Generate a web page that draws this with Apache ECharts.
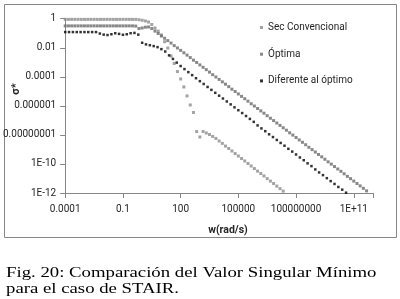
<!DOCTYPE html>
<html>
<head>
<meta charset="utf-8">
<script src="https://cdn.jsdelivr.net/npm/echarts@6/dist/echarts.min.js"></script>
<style>
  html, body { margin: 0; padding: 0; background: #fff; }
  #main { width: 400px; height: 299px; }
</style>
</head>
<body>
<div id="main"></div>
<script>
// frecuencias (rad/s), 6 puntos por decada
const wFine = [
  1e-4, 1.47e-4, 2.15e-4, 3.16e-4, 4.64e-4, 6.81e-4,
  1e-3, 1.47e-3, 2.15e-3, 3.16e-3, 4.64e-3, 6.81e-3,
  1e-2, 1.47e-2, 2.15e-2, 3.16e-2, 4.64e-2, 6.81e-2,
  1e-1, 1.47e-1, 2.15e-1, 3.16e-1, 4.64e-1, 6.81e-1,
  1, 1.47, 2.15, 3.16, 4.64, 6.81,
  1e1, 1.47e1, 2.15e1, 3.16e1, 4.64e1, 6.81e1,
  1e2, 1.47e2, 2.15e2, 3.16e2, 4.64e2, 6.81e2,
  1e3, 1.47e3, 2.15e3, 3.16e3, 4.64e3, 6.81e3,
  1e4, 1.47e4, 2.15e4, 3.16e4, 4.64e4, 6.81e4,
  1e5, 1.47e5, 2.15e5, 3.16e5, 4.64e5, 6.81e5,
  1e6, 1.47e6, 2.15e6, 3.16e6, 4.64e6, 6.81e6,
  1e7, 1.47e7, 2.15e7, 3.16e7, 4.64e7, 6.81e7,
  1e8, 1.47e8, 2.15e8, 3.16e8, 4.64e8, 6.81e8,
  1e9, 1.47e9, 2.15e9, 3.16e9, 4.64e9, 6.81e9,
  1e10, 1.47e10, 2.15e10, 3.16e10, 4.64e10, 6.81e10,
  1e11, 1.47e11, 2.15e11, 3.16e11, 4.64e11
];
// frecuencias (rad/s), 5 puntos por decada
const wCoarse = [
  1e-4, 1.58e-4, 2.51e-4, 3.98e-4, 6.31e-4,
  1e-3, 1.58e-3, 2.51e-3, 3.98e-3, 6.31e-3,
  1e-2, 1.58e-2, 2.51e-2, 3.98e-2, 6.31e-2,
  1e-1, 1.58e-1, 2.51e-1, 3.98e-1, 6.31e-1,
  1, 1.58, 2.51, 3.98, 6.31,
  1e1, 1.58e1, 2.51e1, 3.98e1, 6.31e1,
  1e2, 1.58e2, 2.51e2, 3.98e2, 6.31e2,
  1e3, 1.58e3, 2.51e3, 3.98e3, 6.31e3,
  1e4, 1.58e4, 2.51e4, 3.98e4, 6.31e4,
  1e5, 1.58e5, 2.51e5, 3.98e5, 6.31e5,
  1e6, 1.58e6, 2.51e6, 3.98e6, 6.31e6,
  1e7, 1.58e7, 2.51e7, 3.98e7, 6.31e7,
  1e8, 1.58e8, 2.51e8, 3.98e8, 6.31e8,
  1e9, 1.58e9, 2.51e9, 3.98e9, 6.31e9,
  1e10, 1.58e10, 2.51e10, 3.98e10
];

// valor singular minimo
const secConvencional = [
  0.9, 0.9, 0.9, 0.9, 0.9, 0.9, 0.9, 0.9, 0.9, 0.9, 0.9, 0.9,
  0.9, 0.9, 0.9, 0.9, 0.9, 0.9, 0.9, 0.9, 0.9, 0.9, 0.9,
  0.85, 0.78, 0.7, 0.59, 0.4, 0.23, 0.14, 0.076, 0.026, 0.0096, 0.0027,
  8.3e-4, 2.3e-4, 7.1e-5, 2.0e-5, 4.8e-6, 1.15e-6, 3.5e-7,
  1.7e-8, 7.2e-9, 1.7e-8, 1.35e-8, 1.07e-8, 7.8e-9, 5.7e-9,
  3.8e-9, 2.6e-9, 1.7e-9, 1.15e-9, 7.8e-10, 5.2e-10, 3.5e-10, 2.35e-10,
  1.6e-10, 1.07e-10, 7.2e-11, 4.8e-11, 3.2e-11, 2.2e-11, 1.5e-11,
  9.8e-12, 6.6e-12, 4.5e-12, 3.0e-12, 2.0e-12, 1.35e-12
];
const optima = [
  0.32, 0.32, 0.32, 0.32, 0.32, 0.32, 0.32, 0.32, 0.32, 0.32, 0.32, 0.32,
  0.32, 0.32, 0.32, 0.32, 0.32, 0.32, 0.32, 0.32, 0.32, 0.32, 0.31,
  0.21, 0.23, 0.26, 0.27, 0.21, 0.14, 0.096, 0.064, 0.045, 0.031, 0.021, 0.014, 0.0097,
  6.6e-3, 4.5e-3, 3.1e-3, 2.1e-3, 1.4e-3, 9.7e-4,
  6.6e-4, 4.5e-4, 3.1e-4, 2.1e-4, 1.4e-4, 9.7e-5,
  6.6e-5, 4.5e-5, 3.1e-5, 2.1e-5, 1.4e-5, 9.7e-6,
  6.6e-6, 4.5e-6, 3.1e-6, 2.1e-6, 1.4e-6, 9.7e-7,
  6.6e-7, 4.5e-7, 3.1e-7, 2.1e-7, 1.4e-7, 9.7e-8,
  6.6e-8, 4.5e-8, 3.1e-8, 2.1e-8, 1.4e-8, 9.7e-9,
  6.6e-9, 4.5e-9, 3.1e-9, 2.1e-9, 1.4e-9, 9.7e-10,
  6.6e-10, 4.5e-10, 3.1e-10, 2.1e-10, 1.4e-10, 9.7e-11,
  6.6e-11, 4.5e-11, 3.1e-11, 2.1e-11, 1.4e-11, 9.7e-12,
  6.6e-12, 4.5e-12, 3.1e-12, 2.1e-12, 1.4e-12
];
const diferente = [
  0.12, 0.12, 0.12, 0.12, 0.12, 0.12, 0.12, 0.12, 0.12,
  0.095, 0.08, 0.075, 0.085, 0.1, 0.09, 0.078, 0.085, 0.1, 0.105, 0.08,
  0.022, 0.017, 0.015, 0.013, 0.011, 0.008, 0.0055, 0.003, 0.0017, 9.5e-4,
  5.5e-4, 3.4e-4, 2.1e-4, 1.3e-4, 8e-5,
  5.0e-5, 3.2e-5, 2.0e-5, 1.26e-5, 7.9e-6,
  5.0e-6, 3.2e-6, 2.0e-6, 1.26e-6, 7.9e-7,
  5.0e-7, 3.2e-7, 2.0e-7, 1.26e-7, 7.9e-8,
  4.5e-8, 2.8e-8, 1.8e-8, 1.1e-8, 7.1e-9,
  4.5e-9, 2.8e-9, 1.8e-9, 1.1e-9, 7.1e-10,
  4.5e-10, 2.8e-10, 1.8e-10, 1.1e-10, 7.1e-11,
  4.2e-11, 2.6e-11, 1.7e-11, 1.05e-11, 6.6e-12,
  4.2e-12, 2.6e-12, 1.7e-12, 1.05e-12
];

const seriesNames = ['Sec Convencional', 'Óptima', 'Diferente al óptimo'];

// etiquetas de los ejes (estilo Excel)
const xTickExp = [-4, -1, 2, 5, 8, 11];
const xTickLabels = ['0.0001', '0.1', '100', '100000', '100000000', '1E+11'];
const yTickExp = [0, -2, -4, -6, -8, -10, -12];
const yTickLabels = ['1', '0.01', '0.0001', '0.000001', '0.00000001', '1E-10', '1E-12'];

const axisColor = '#868686';
const textColor = '#262626';
const font = 'Roboto';
const captionFont = '14px "Liberation Serif"';

function pairs(ws, vals) {
  return vals.map((v, i) => [ws[i], v]);
}
function tickFormatter(exps, labels) {
  return function (v) {
    const e = Math.round(Math.log10(v));
    const i = exps.indexOf(e);
    return i < 0 ? '' : labels[i];
  };
}

const myChart = echarts.init(document.getElementById('main'), null, { renderer: 'canvas' });

const option = {
  backgroundColor: '#fff',
  animation: false,
  grid: { left: 59.3, right: 27, top: 18.7, bottom: 106 },
  legend: {
    orient: 'vertical',
    left: 255,
    top: 16.5,
    itemWidth: 3,
    itemHeight: 3,
    itemGap: 14.7,
    data: seriesNames,
    textStyle: { fontFamily: font, fontSize: 10, color: textColor, lineHeight: 12 }
  },
  xAxis: {
    type: 'log',
    logBase: 10,
    min: 1e-4,
    max: 1e12,
    interval: 3,
    axisLine: { lineStyle: { color: axisColor, width: 1 } },
    axisTick: { length: 5, lineStyle: { color: axisColor } },
    axisLabel: {
      margin: 11,
      color: textColor,
      fontFamily: font,
      fontSize: 10,
      formatter: tickFormatter(xTickExp, xTickLabels)
    },
    splitLine: { show: false },
    minorTick: { show: false }
  },
  yAxis: {
    type: 'log',
    logBase: 10,
    min: 1e-12,
    max: 1,
    interval: 2,
    axisLine: { show: true, lineStyle: { color: axisColor, width: 1 } },
    axisTick: { show: true, length: 5, lineStyle: { color: axisColor } },
    axisLabel: {
      margin: 9,
      color: textColor,
      fontFamily: font,
      fontSize: 10,
      formatter: tickFormatter(yTickExp, yTickLabels)
    },
    splitLine: { show: false },
    minorTick: { show: false }
  },
  graphic: [
    {
      type: 'rect',
      z: -10,
      shape: { x: 4.5, y: 4.5, width: 392, height: 233 },
      style: { fill: 'none', stroke: axisColor, lineWidth: 1 }
    },
    {
      type: 'text',
      x: 16, y: 89,
      rotation: Math.PI / 2,
      style: {
        text: 'σ*', fill: textColor, font: 'bold 11px Roboto',
        textAlign: 'center', textVerticalAlign: 'middle'
      }
    },
    {
      type: 'text',
      x: 228, y: 230,
      style: {
        text: 'w(rad/s)', fill: textColor, font: 'bold 10.5px Roboto',
        textAlign: 'center', textVerticalAlign: 'middle'
      }
    },
    {
      type: 'text',
      x: 6, y: 273,
      scaleX: 1.34,
      style: {
        text: 'Fig. 20: Comparación del Valor Singular Mínimo', fill: '#000',
        font: captionFont, textVerticalAlign: 'middle'
      }
    },
    {
      type: 'text',
      x: 6, y: 289,
      scaleX: 1.34,
      style: {
        text: 'para el caso de STAIR.', fill: '#000',
        font: captionFont, textVerticalAlign: 'middle'
      }
    }
  ],
  series: [
    {
      name: seriesNames[0],
      type: 'scatter',
      symbol: 'rect',
      symbolSize: 3,
      itemStyle: { color: '#8c8c8c' },
      data: pairs(wFine, secConvencional)
    },
    {
      name: seriesNames[1],
      type: 'scatter',
      symbol: 'rect',
      symbolSize: 3,
      itemStyle: { color: '#6a6a6a' },
      data: pairs(wFine, optima)
    },
    {
      name: seriesNames[2],
      type: 'scatter',
      symbol: 'rect',
      symbolSize: 2.5,
      itemStyle: { color: '#000' },
      data: pairs(wCoarse, diferente)
    }
  ]
};
option && myChart.setOption(option);
</script>
</body>
</html>
